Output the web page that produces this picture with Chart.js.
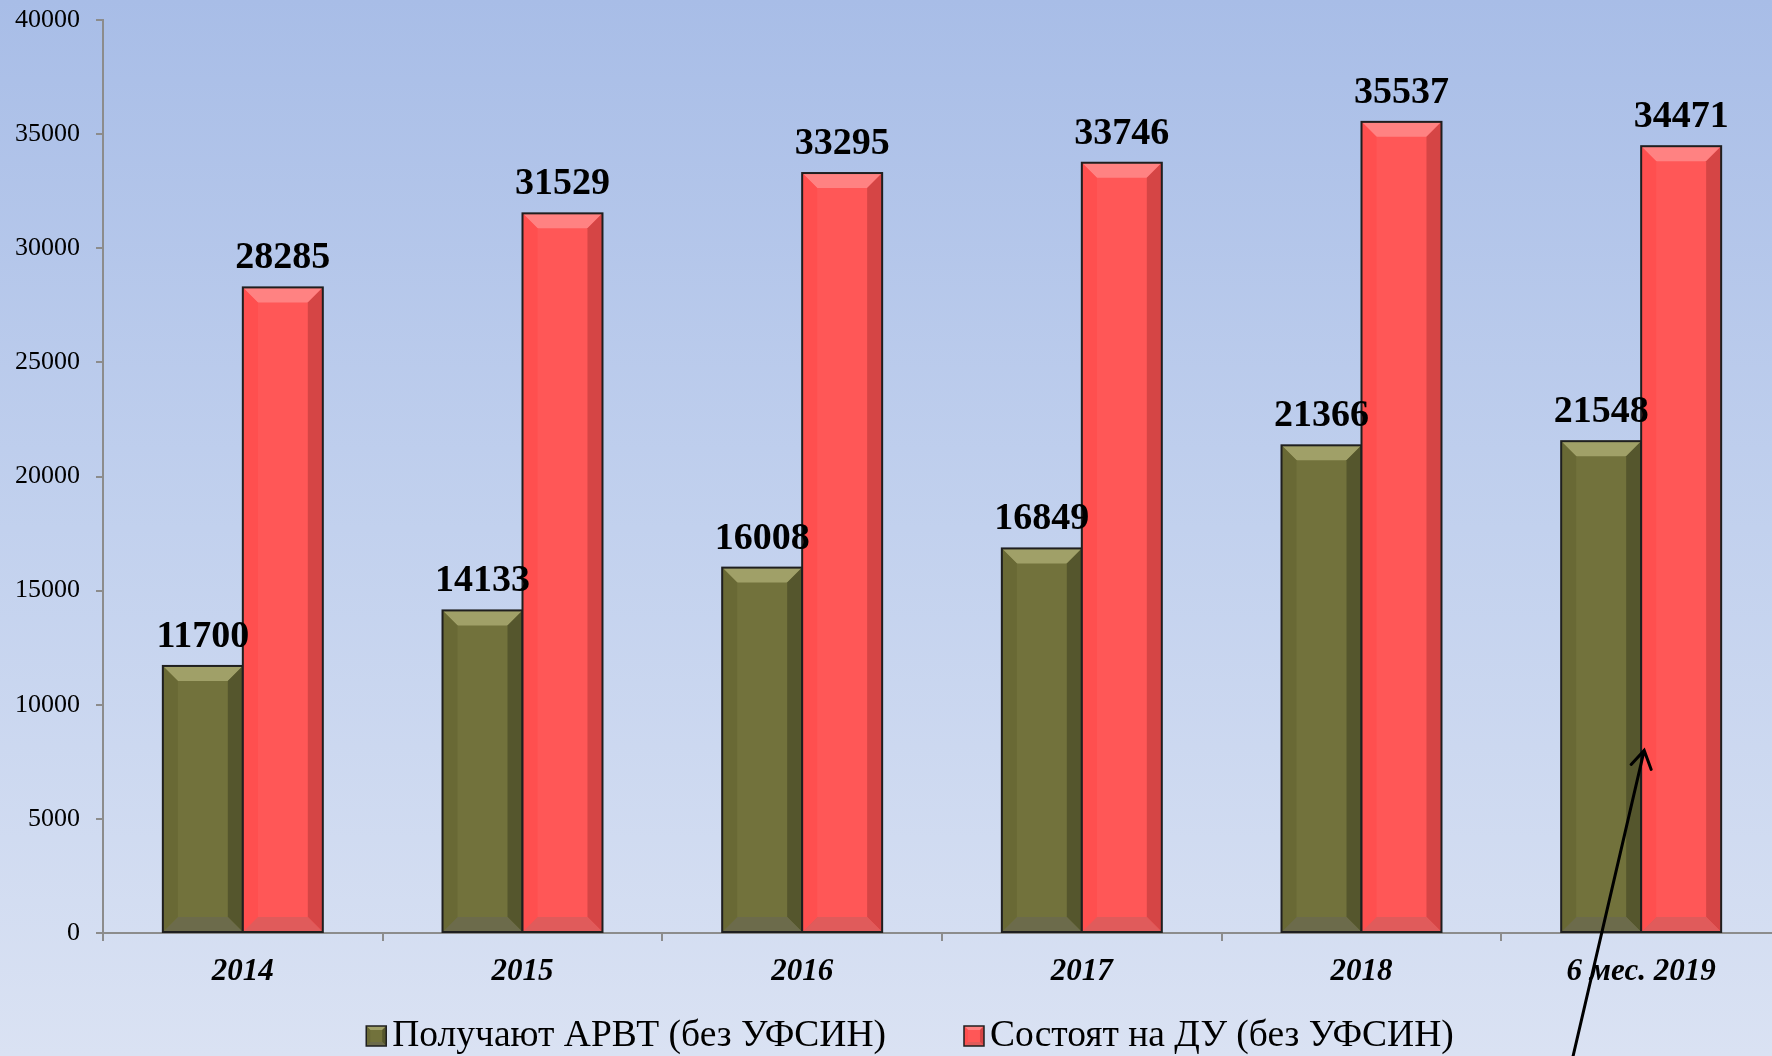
<!DOCTYPE html>
<html>
<head>
<meta charset="utf-8">
<script src="https://cdn.jsdelivr.net/npm/chart.js@4.4.1/dist/chart.umd.min.js"></script>
<style>
  html, body { margin: 0; padding: 0; overflow: hidden; width: 1772px; height: 1056px; }
  body { background: linear-gradient(to bottom, #a8bde7 0%, #c2d1ee 50%, #dae2f3 100%); }
  canvas { display: block; }
</style>
</head>
<body>
<canvas id="ch_arvt" width="1781" height="1056"></canvas>
<script>
// data
const categories = ['2014', '2015', '2016', '2017', '2018', '6 мес. 2019'];
const arvtValues = [11700, 14133, 16008, 16849, 21366, 21548];
const duValues   = [28285, 31529, 33295, 33746, 35537, 34471];
const seriesNames = ['Получают АРВТ (без УФСИН)', 'Состоят на ДУ (без УФСИН)'];
const yMax = 40000, yStep = 5000;

// bevel palettes
const PAL = [
  { face: '#72723c', top: '#a0a068', left: '#696935', right: '#55562d', bottom: '#6c6b4b' },
  { face: '#ff5757', top: '#ff8282', left: '#ff4f4f', right: '#d54545', bottom: '#e05b5b' }
];
const SERIF = "'Liberation Serif', 'Times New Roman', serif";

function poly(ctx, pts, color) {
  ctx.beginPath();
  ctx.moveTo(pts[0][0], pts[0][1]);
  pts.slice(1).forEach(p => ctx.lineTo(p[0], p[1]));
  ctx.closePath();
  ctx.fillStyle = color;
  ctx.fill();
}

function bevelBox(ctx, l, t, r, b, s, pal, lw) {
  ctx.fillStyle = pal.face;
  ctx.fillRect(l, t, r - l, b - t);
  poly(ctx, [[l, t], [r, t], [r - s, t + s], [l + s, t + s]], pal.top);
  poly(ctx, [[r, t], [r, b], [r - s, b - s], [r - s, t + s]], pal.right);
  poly(ctx, [[l, b], [r, b], [r - s, b - s], [l + s, b - s]], pal.bottom);
  poly(ctx, [[l, t], [l + s, t + s], [l + s, b - s], [l, b]], pal.left);
  ctx.lineWidth = lw;
  ctx.strokeStyle = '#1f1f1f';
  ctx.strokeRect(l, t, r - l, b - t);
}

/* ── bevelled bars + value labels ─────────────────────────────── */
const bevelPlugin = {
  id: 'bevel',
  afterDatasetsDraw(chart) {
    const ctx = chart.ctx;
    ctx.save();
    chart.data.datasets.forEach((ds, di) => {
      chart.getDatasetMeta(di).data.forEach(bar => {
        const l = bar.x - bar.width / 2, r = bar.x + bar.width / 2;
        bevelBox(ctx, l, bar.y, r, bar.base, 15, PAL[di], 2);
      });
    });
    ctx.font = `bold 38px ${SERIF}`;
    ctx.fillStyle = '#000';
    ctx.textAlign = 'center';
    ctx.textBaseline = 'alphabetic';
    chart.data.datasets.forEach((ds, di) => {
      chart.getDatasetMeta(di).data.forEach((bar, i) => {
        ctx.fillText(String(ds.data[i]), bar.x, bar.y - 19);
      });
    });
    ctx.restore();
  },
  afterDraw(chart) {
    const ctx = chart.ctx;
    const xs = chart.scales.x, ys = chart.scales.y;
    ctx.save();
    // legend
    ctx.font = `37.5px ${SERIF}`;
    ctx.textBaseline = 'middle';
    ctx.textAlign = 'left';
    const widths = seriesNames.map(n => ctx.measureText(n).width);
    const box = 20, gapTxt = 6, gapItem = 78;
    const total = widths.reduce((s, w) => s + box + gapTxt + w, 0) + gapItem;
    let x = (chart.chartArea.left + chart.chartArea.right) / 2 - 32 - total / 2;
    const cy = 1036;
    seriesNames.forEach((n, i) => {
      bevelBox(ctx, x, cy - box / 2, x + box, cy + box / 2, 4, PAL[i], 1.5);
      ctx.fillStyle = '#000';
      ctx.fillText(n, x + box + gapTxt, cy);
      x += box + gapTxt + widths[i] + gapItem;
    });
    // arrow pointing at the last pair
    const tipX = xs.getPixelForValue(categories.length - 1) + 3;
    const tipY = ys.getPixelForValue(8000);
    ctx.strokeStyle = '#000';
    ctx.lineWidth = 3;
    ctx.lineCap = 'round';
    ctx.beginPath();
    ctx.moveTo(tipX - 72, 1060);
    ctx.lineTo(tipX, tipY);
    ctx.moveTo(tipX - 13, tipY + 14);
    ctx.lineTo(tipX, tipY);
    ctx.lineTo(tipX + 7, tipY + 19);
    ctx.stroke();
    ctx.restore();
  }
};

const axisGray = '#8c8c8c';

new Chart(document.getElementById('ch_arvt').getContext('2d'), {
  type: 'bar',
  data: {
    labels: categories,
    datasets: [
      { label: seriesNames[0], data: arvtValues, backgroundColor: PAL[0].face, borderWidth: 0,
        categoryPercentage: 0.572, barPercentage: 1 },
      { label: seriesNames[1], data: duValues, backgroundColor: PAL[1].face, borderWidth: 0,
        categoryPercentage: 0.572, barPercentage: 1 }
    ]
  },
  options: {
    responsive: false,
    animation: false,
    layout: { padding: { left: 0, top: 20, right: 0, bottom: 48 } },
    plugins: { legend: { display: false }, tooltip: { enabled: false } },
    scales: {
      x: {
        afterFit: s => { s.height = 75; s.paddingLeft = 0; s.paddingRight = 0; },
        grid: { drawOnChartArea: false, color: axisGray, lineWidth: 2, tickLength: 8 },
        border: { color: axisGray, width: 2 },
        ticks: { color: '#000', padding: 12, font: { family: SERIF, size: 31, weight: 'bold', style: 'italic' } }
      },
      y: {
        min: 0, max: yMax,
        afterFit: s => { s.width = 103; s.paddingTop = 0; s.paddingBottom = 0; },
        grid: { drawOnChartArea: false, color: axisGray, lineWidth: 2, tickLength: 7 },
        border: { color: axisGray, width: 2 },
        ticks: { stepSize: yStep, color: '#000', padding: 16, font: { family: SERIF, size: 26 },
                 callback: v => String(v) }
      }
    }
  },
  plugins: [bevelPlugin]
});
</script>
</body>
</html>
